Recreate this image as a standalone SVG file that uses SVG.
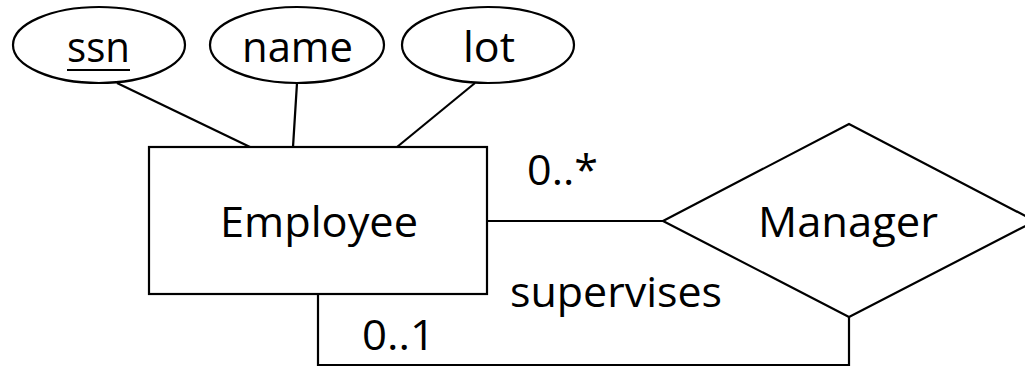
<svg xmlns="http://www.w3.org/2000/svg" width="1025" height="367" viewBox="0 0 1025 367">
  <style>
    .shape { fill: #ffffff; stroke: #000000; stroke-width: 2.2; }
    .edge { fill: none; stroke: #000000; stroke-width: 2.2; }
    .lbl { font-family: "Open Sans", "Noto Sans", "Liberation Sans", sans-serif; font-size: 42px; fill: #000000; }
  </style>
  <rect width="1025" height="367" fill="#ffffff"/>

  <!-- connectors -->
  <g id="connectors">
    <line class="edge" x1="117" y1="83" x2="250" y2="147"/>
    <line class="edge" x1="297" y1="83" x2="293" y2="147"/>
    <line class="edge" x1="475" y1="83" x2="397" y2="147"/>
    <line class="edge" x1="487" y1="221" x2="663" y2="221"/>
    <polyline class="edge" points="849,317 849,365 318,365 318,294"/>
    <text class="lbl" x="527" y="185" textLength="71" lengthAdjust="spacingAndGlyphs">0..*</text>
    <text class="lbl" x="362" y="350" textLength="73" lengthAdjust="spacingAndGlyphs">0..1</text>
  </g>

  <!-- attributes -->
  <g id="attr-ssn">
    <ellipse class="shape" cx="99" cy="45" rx="86" ry="38"/>
    <text class="lbl" x="67" y="62" textLength="63" lengthAdjust="spacingAndGlyphs">ssn</text>
    <line x1="67" y1="70" x2="130" y2="70" stroke="#000000" stroke-width="2"/>
  </g>
  <g id="attr-name">
    <ellipse class="shape" cx="297" cy="45" rx="87" ry="38"/>
    <text class="lbl" x="242" y="62" textLength="111" lengthAdjust="spacingAndGlyphs">name</text>
  </g>
  <g id="attr-lot">
    <ellipse class="shape" cx="488" cy="45" rx="86" ry="38"/>
    <text class="lbl" x="463" y="62" textLength="52" lengthAdjust="spacingAndGlyphs">lot</text>
  </g>

  <!-- entity -->
  <g id="entity-employee">
    <rect class="shape" x="149" y="147" width="338" height="147"/>
    <text class="lbl" x="220" y="237" textLength="198" lengthAdjust="spacingAndGlyphs">Employee</text>
  </g>

  <!-- relationship -->
  <g id="rel-manager">
    <polygon class="shape" points="663,221 849,124 1035,221 849,317"/>
    <text class="lbl" x="758" y="237" textLength="180" lengthAdjust="spacingAndGlyphs">Manager</text>
    <text class="lbl" x="510" y="307" textLength="212" lengthAdjust="spacingAndGlyphs">supervises</text>
  </g>
</svg>
